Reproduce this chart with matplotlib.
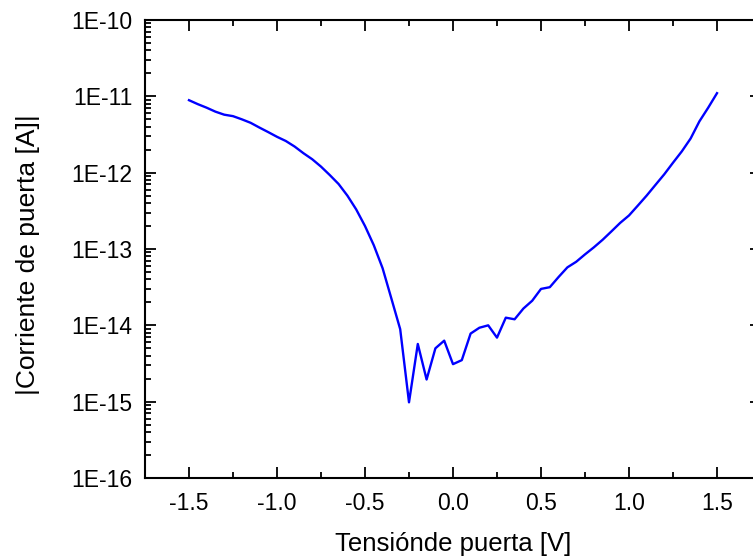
import math
import matplotlib
matplotlib.use("Agg")
import matplotlib.pyplot as plt
from matplotlib.ticker import LogLocator, FuncFormatter, MultipleLocator, NullFormatter

plt.rcParams['font.family'] = ['Liberation Sans', 'DejaVu Sans']

# Gate voltage sweep [V]
voltage = [
    -1.50, -1.45, -1.40, -1.35, -1.30, -1.25, -1.20, -1.15, -1.10, -1.05,
    -1.00, -0.95, -0.90, -0.85, -0.80, -0.75, -0.70, -0.65, -0.60, -0.55,
    -0.50, -0.45, -0.40, -0.35, -0.30, -0.25, -0.20, -0.15, -0.10, -0.05,
    0.00, 0.05, 0.10, 0.15, 0.20, 0.25, 0.30, 0.35, 0.40, 0.45,
    0.50, 0.55, 0.60, 0.65, 0.70, 0.75, 0.80, 0.85, 0.90, 0.95,
    1.00, 1.05, 1.10, 1.15, 1.20, 1.25, 1.30, 1.35, 1.40, 1.45, 1.50,
]

# Absolute gate current [A]
gate_current = [
    8.9e-12, 7.9e-12, 7.1e-12, 6.3e-12, 5.75e-12, 5.5e-12, 5.0e-12, 4.5e-12, 3.9e-12, 3.4e-12,
    2.95e-12, 2.6e-12, 2.2e-12, 1.8e-12, 1.5e-12, 1.2e-12, 9.3e-13, 7.1e-13, 5.0e-13, 3.3e-13,
    2.0e-13, 1.12e-13, 5.6e-14, 2.24e-14, 8.9e-15, 9.8e-16, 5.7e-15, 1.95e-15, 5.0e-15, 6.3e-15,
    3.1e-15, 3.5e-15, 7.8e-15, 9.3e-15, 1.0e-14, 6.9e-15, 1.26e-14, 1.2e-14, 1.66e-14, 2.1e-14,
    3.0e-14, 3.16e-14, 4.3e-14, 5.75e-14, 6.8e-14, 8.5e-14, 1.05e-13, 1.32e-13, 1.7e-13, 2.2e-13,
    2.75e-13, 3.7e-13, 5.0e-13, 6.9e-13, 9.5e-13, 1.35e-12, 1.9e-12, 2.8e-12, 4.7e-12, 7.1e-12, 1.1e-11,
]

x_ticks = [-1.5, -1.0, -0.5, 0.0, 0.5, 1.0, 1.5]
x_tick_labels = ["-1.5", "-1.0", "-0.5", "0.0", "0.5", "1.0", "1.5"]

fig = plt.figure(figsize=(7.53, 5.56), dpi=100)
ax = fig.add_axes([145 / 753, 78 / 556, 616 / 753, 458 / 556])

ax.plot(voltage, gate_current, color="#0000ff", lw=1.7)

ax.set_yscale("log")
ax.set_xlim(-1.75, 1.75)
ax.set_ylim(1e-16, 1e-10)

ax.set_xticks(x_ticks)
ax.set_xticklabels(x_tick_labels)
ax.xaxis.set_minor_locator(MultipleLocator(0.25))

ax.yaxis.set_major_locator(LogLocator(base=10, numticks=20))
ax.yaxis.set_minor_locator(LogLocator(base=10, subs=range(2, 10), numticks=20))
ax.yaxis.set_major_formatter(FuncFormatter(lambda v, p: "1E%d" % round(math.log10(v))))
ax.yaxis.set_minor_formatter(NullFormatter())

ax.tick_params(which="both", direction="in", top=True, right=True, width=1.3, labelsize=16.5)
ax.tick_params(which="major", length=8)
ax.tick_params(axis="x", which="major", pad=10)
ax.tick_params(axis="y", which="major", pad=9)
ax.tick_params(which="minor", length=4.5)
for s in ax.spines.values():
    s.set_linewidth(1.5)

ax.set_xlabel("Tensiónde puerta [V]", fontsize=18.5, labelpad=12)
ax.set_ylabel("|Corriente de puerta [A]|", fontsize=19)
ax.yaxis.set_label_coords(-0.17, 0.487)

fig.savefig("out.png", dpi=100)
